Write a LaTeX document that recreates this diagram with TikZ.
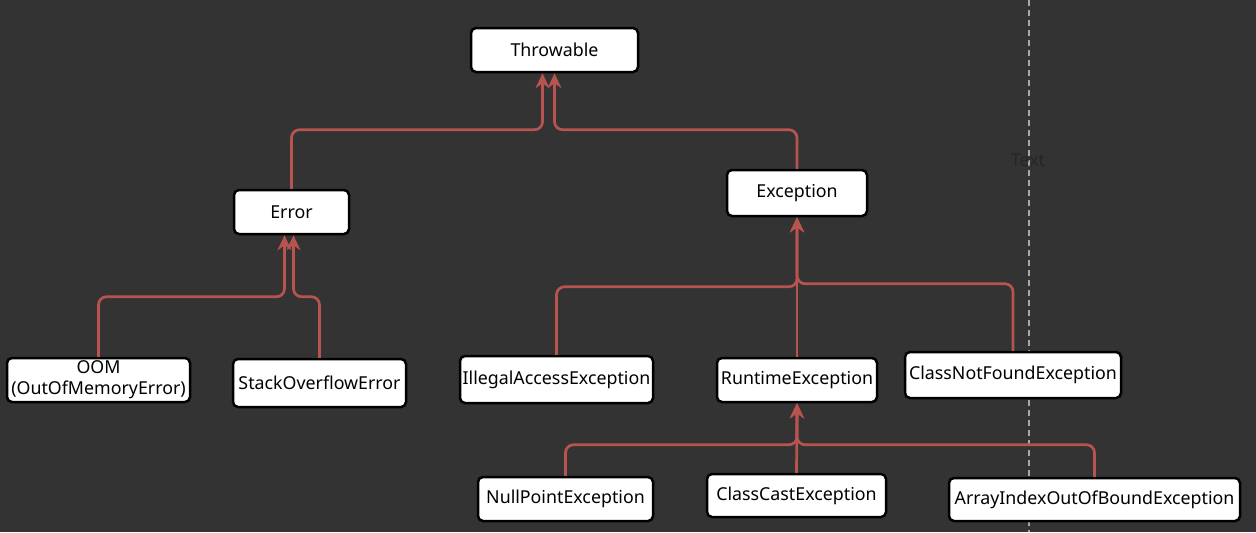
\documentclass[tikz,border=0pt]{standalone}
\usepackage{fontspec}
\setmainfont{Noto Sans}
\usetikzlibrary{arrows.meta}
\definecolor{bgdark}{HTML}{333333}
\definecolor{linkred}{HTML}{B85450}
\definecolor{guidegray}{HTML}{A8A8A8}
\definecolor{ghosttext}{HTML}{262626}

\tikzset{
  cls/.style={draw=black,fill=white,line width=1.25pt,rounded corners=2.5pt,
              font=\fontsize{8.9}{10.5}\selectfont,inner sep=1pt,align=center},
  link/.style={linkred,line width=1.35pt,rounded corners=4pt,
               -{Stealth[length=7.5pt,width=7pt,inset=2.5pt]}},
}

\begin{document}
\begin{tikzpicture}[x=0.5pt,y=-0.5pt]

  % --- canvas ---
  \fill[bgdark] (0,0) rectangle (1256,532);
  \useasboundingbox (0,0) rectangle (1256,532);

  % --- guide line ---
  \draw[guidegray,line width=0.75pt,dash pattern=on 3pt off 2pt] (1029,0) -- (1029,532);
  \node[ghosttext,font=\fontsize{8.9}{10.5}\selectfont] (guide) at (1028,160) {Text};

  % --- classes ---
  \node[cls,minimum width=83.5pt,minimum height=22pt]   (thr) at (554.5,50)    {Throwable};
  \node[cls,minimum width=57.5pt,minimum height=22pt]   (err) at (291.5,212)   {Error};
  \node[cls,minimum width=70pt,minimum height=23pt]     (exc) at (797,193)     {Exception};
  \node[cls,minimum width=91.5pt,minimum height=22pt]   (oom) at (98.5,380)    {OOM\\(OutOfMemoryError)};
  \node[cls,minimum width=86.5pt,minimum height=24pt]   (soe) at (319.5,383)   {StackOverflowError};
  \node[cls,minimum width=96.5pt,minimum height=23.5pt] (ill) at (556.5,379.5) {IllegalAccessException};
  \node[cls,minimum width=80pt,minimum height=22pt]     (rte) at (797,380)     {RuntimeException};
  \node[cls,minimum width=108pt,minimum height=23pt]    (cnf) at (1013,375)    {ClassNotFoundException};
  \node[cls,minimum width=87.5pt,minimum height=22pt]   (npe) at (565.5,499)   {NullPointException};
  \node[cls,minimum width=89.5pt,minimum height=21.5pt] (cce) at (796.5,495.5) {ClassCastException};
  \node[cls,minimum width=145.5pt,minimum height=21.5pt](aio) at (1094.5,499.5){ArrayIndexOutOfBoundException};

  % --- inheritance links ---
  \draw[link] (err.north) -- ++(0,-59) -| ([xshift=-6pt]thr.south);
  \draw[link] (exc.north) -- ++(0,-39) -| (thr.south);

  \draw[link] (oom.north) -- ++(0,-60) -| ([xshift=-3.5pt]err.south);
  \draw[link] (soe.north) -- ++(0,-61) -| ([xshift=1pt]err.south);

  \draw[link] (ill.north) -- ++(0,-68) -| (exc.south);
  \draw[link] (rte.north) -- (exc.south);
  \draw[link] (cnf.north) -- ++(0,-67) -| (exc.south);

  \draw[link] (npe.north) -- ++(0,-31) -| (rte.south);
  \draw[link] (cce.north) -- (rte.south);
  \draw[link] (aio.north) -- ++(0,-32) -| (rte.south);

\end{tikzpicture}
\end{document}
